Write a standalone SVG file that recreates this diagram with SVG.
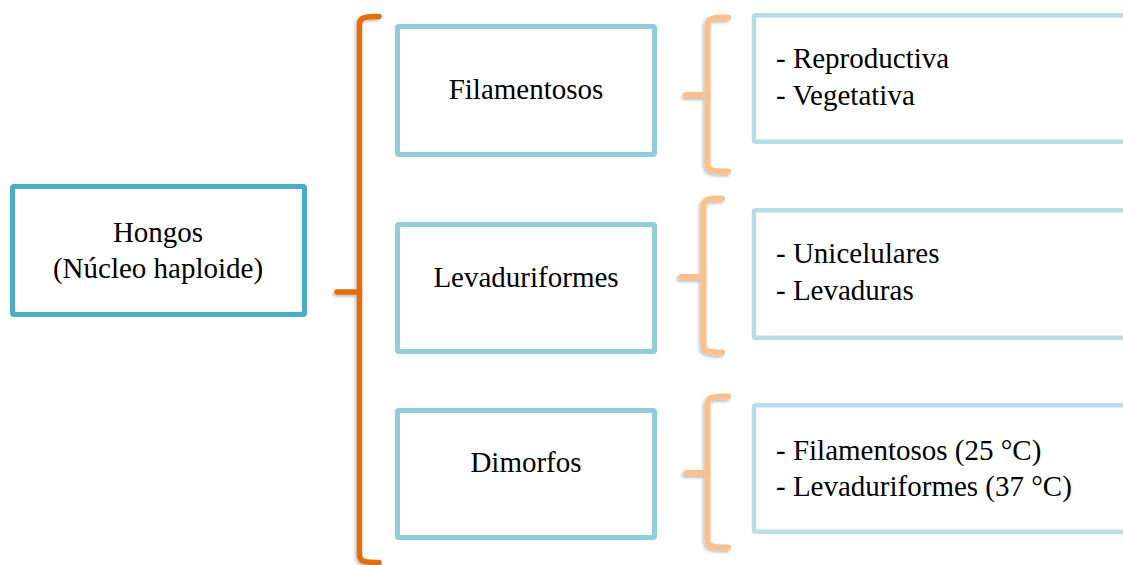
<svg xmlns="http://www.w3.org/2000/svg" width="1123" height="565" viewBox="0 0 1123 565">
<defs>
<filter id="sh" x="-50%" y="-10%" width="200%" height="120%">
<feDropShadow dx="-1.5" dy="2" stdDeviation="1.5" flood-color="#000" flood-opacity="0.25"/>
</filter>
<style>
.t{font-size:29px;fill:#000}
.c{text-anchor:middle}
.main{fill:#fff;stroke:#4BACC6;stroke-width:5}
.mid{fill:#fff;stroke:#92CDDC;stroke-width:5}
.leaf{fill:#fff;stroke:#B7DEE8;stroke-width:4.5}
.b1{fill:none;stroke:#E36C09;stroke-width:5.5;stroke-linecap:round;stroke-linejoin:round}
.b2{fill:none;stroke:#FAC090;stroke-width:6;stroke-linecap:round;stroke-linejoin:round}
</style>
</defs>
<rect width="1123" height="565" fill="#fff"/>
<g font-family="Liberation Serif, serif">
<g id="hongos">
<rect class="main" x="12.5" y="186.5" width="292" height="128" rx="1.5"/>
<text class="t c" x="158" y="242">Hongos</text>
<text class="t c" x="158" y="278">(Núcleo haploide)</text>
</g>
<g id="connectors">
<g filter="url(#sh)">
<path class="b1" d="M379,16.5 C366,16.5 359.5,17 359.5,24 L359.5,555 C359.5,562 366,562.5 379,562.5"/>
<path class="b1" d="M337,292 L359.5,292"/>
</g>
<g filter="url(#sh)">
<path class="b2" d="M728,17.5 C714,17.5 707.5,18 707.5,25 L707.5,164 C707.5,171 714,171.5 728,171.5"/>
<path class="b2" d="M686,95 L707.5,95"/>
<path class="b2" d="M722,198.5 C710,198.5 703.5,199 703.5,206 L703.5,345 C703.5,352 710,352.5 722,352.5"/>
<path class="b2" d="M681,277 L703.5,277"/>
<path class="b2" d="M728,396.5 C714,396.5 707.5,397 707.5,404 L707.5,540 C707.5,547 714,547.5 728,547.5"/>
<path class="b2" d="M686,473 L707.5,473"/>
</g>
</g>
<g id="filamentosos">
<rect class="mid" x="397.5" y="26.5" width="257" height="128" rx="1.5"/>
<text class="t c" x="526" y="99">Filamentosos</text>
</g>
<g id="levaduriformes">
<rect class="mid" x="397.5" y="224.5" width="257" height="127" rx="1.5"/>
<text class="t c" x="526" y="287">Levaduriformes</text>
</g>
<g id="dimorfos">
<rect class="mid" x="397.5" y="410.5" width="257" height="127" rx="1.5"/>
<text class="t c" x="526" y="472">Dimorfos</text>
</g>
<g id="filamentosos-detalle">
<rect class="leaf" x="754" y="15.2" width="380" height="126.6" rx="1.5"/>
<text class="t" x="776" y="68">- Reproductiva</text>
<text class="t" x="776" y="105">- Vegetativa</text>
</g>
<g id="levaduriformes-detalle">
<rect class="leaf" x="754" y="210.2" width="380" height="127.6" rx="1.5"/>
<text class="t" x="776" y="263">- Unicelulares</text>
<text class="t" x="776" y="300">- Levaduras</text>
</g>
<g id="dimorfos-detalle">
<rect class="leaf" x="754" y="405.2" width="380" height="126.6" rx="1.5"/>
<text class="t" x="776" y="460">- Filamentosos (25 °C)</text>
<text class="t" x="776" y="496">- Levaduriformes (37 °C)</text>
</g>
</g>
</svg>
